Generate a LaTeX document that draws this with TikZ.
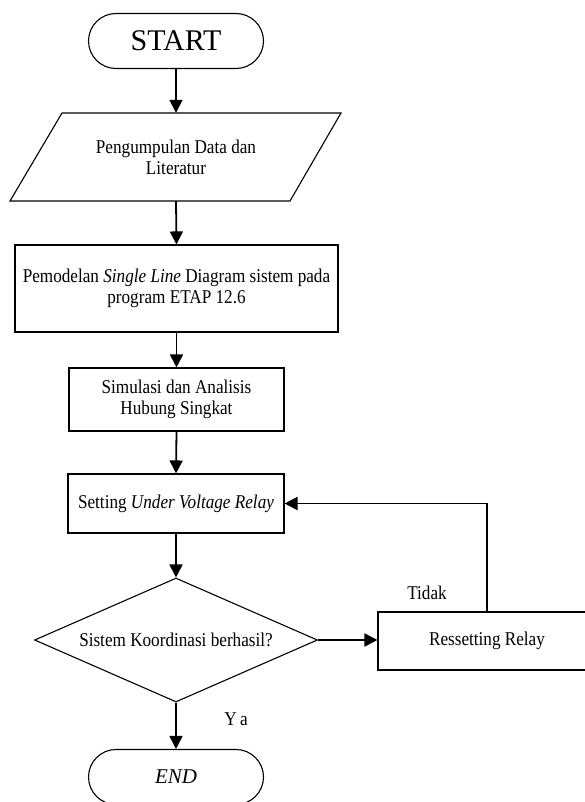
\documentclass[tikz,border=0pt]{standalone}
\usepackage{fontspec}
\setmainfont{Liberation Serif}
\newfontfamily\condserif{Liberation Serif}[FakeStretch=0.88]
\usetikzlibrary{shapes.geometric,arrows.meta}
\begin{document}
\begin{tikzpicture}[x=1pt,y=-1pt,
  every node/.style={inner sep=2pt},
  body/.style={font=\condserif\fontsize{19.5}{21}\selectfont, align=center},
  term/.style={draw, line width=1.1pt, rounded corners=27.5pt, minimum width=175pt, minimum height=55pt},
  box/.style={draw, line width=1.1pt, rectangle, body},
  dia/.style={draw, line width=1.1pt, diamond, aspect=2.28, body},
  flow/.style={line width=1.8pt, -{Triangle[length=13pt,width=13pt]}},
  lbl/.style={body}]
\clip (0,0) rectangle (585,802);
\fill[white] (0,0) rectangle (585,802);

\node[term, font=\fontsize{30}{32}\selectfont] (start) at (176,41) {START};

\draw[line width=1.1pt] (62,113) -- (341,113) -- (290,201) -- (10,201) -- cycle;
\node[body, minimum width=280pt, minimum height=88pt] (data) at (176,157) {Pengumpulan Data dan\\Literatur};

\node[box, minimum width=323pt, minimum height=87pt] (model) at (176.5,288.5)
  {Pemodelan \textit{Single Line} Diagram sistem pada\\program ETAP 12.6};

\node[box, minimum width=215pt, minimum height=63pt] (sim) at (176.5,399.5)
  {Simulasi dan Analisis\\Hubung Singkat};

\node[box, minimum width=216pt, minimum height=59pt] (set) at (176,503.5)
  {Setting \textit{Under Voltage Relay}};

\node[dia, minimum width=283pt, minimum height=124pt] (dec) at (176,640)
  {Sistem Koordinasi berhasil?};

\node[box, minimum width=218pt, minimum height=58pt] (reset) at (487,641)
  {Ressetting Relay};

\node[term, font=\itshape\fontsize{21}{23}\selectfont] (end) at (176,777) {END};

\node[lbl] (tidak) at (427,593) {Tidak};
\node[lbl] (ya) at (236,719) {Y\,a};

\draw[flow] (start.south) -- (data.north);
\draw[flow] (data.south) -- (model.north);
\draw[flow] (model.south) -- (sim.north);
\draw[flow] (sim.south) -- (set.north);
\draw[flow] (set.south) -- (dec.north);
\draw[flow] (dec.east) -- (dec.east -| reset.west);
\draw[flow] (reset.north) |- (set.east);
\draw[flow] (dec.south) -- (end.north);
\end{tikzpicture}
\end{document}
